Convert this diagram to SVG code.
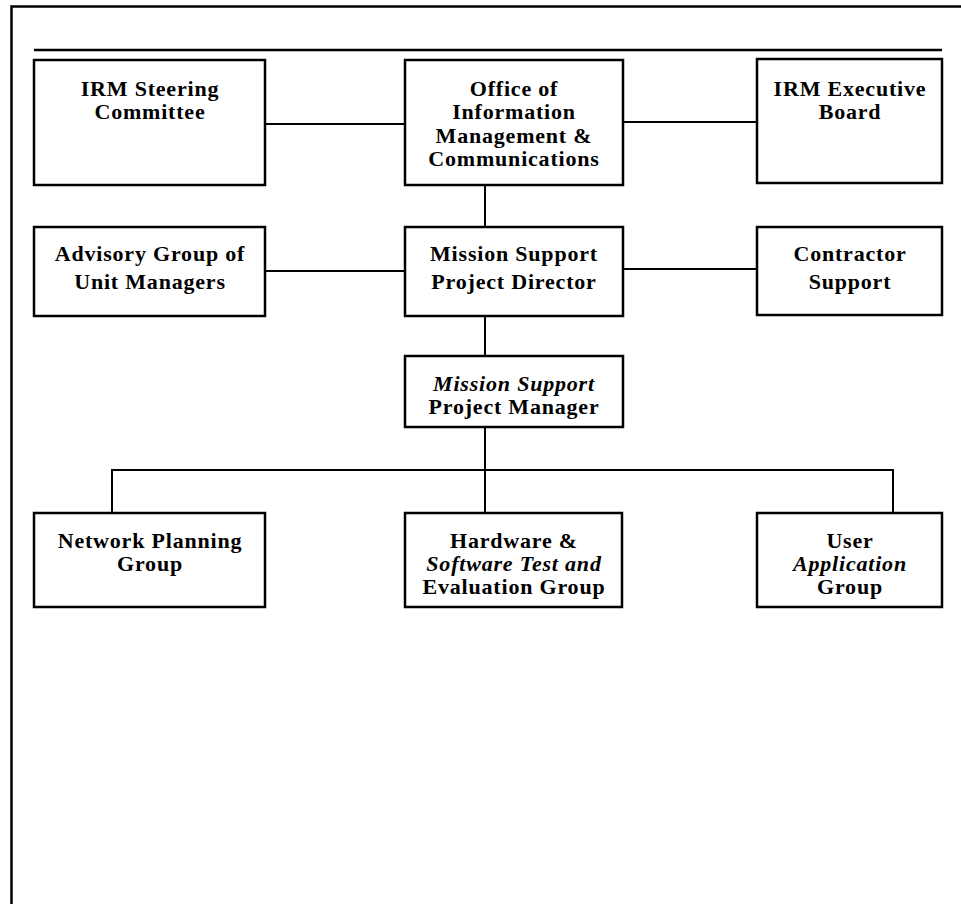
<svg xmlns="http://www.w3.org/2000/svg" width="961" height="904" viewBox="0 0 961 904">
<style>
.box{fill:#fff;stroke:#000;stroke-width:2.5}
.ln{fill:none;stroke:#000;stroke-width:2}
.frame{fill:none;stroke:#000;stroke-width:2.5}
text{font-family:"Liberation Serif","Times New Roman",serif;font-weight:bold;font-size:22px;letter-spacing:0.8px;text-anchor:middle;fill:#000}
.it{font-style:italic}
</style>
<rect width="961" height="904" fill="#fff"/>
<g id="frame">
<path class="frame" d="M11.5,904 V6.5 H961"/>
<path class="frame" d="M34,50 H942"/>
</g>
<g id="connectors">
<path class="ln" d="M265,124 H405"/>
<path class="ln" d="M623,122 H757"/>
<path class="ln" d="M485,185 V227"/>
<path class="ln" d="M265,271 H405"/>
<path class="ln" d="M623,269 H757"/>
<path class="ln" d="M485,316 V356"/>
<path class="ln" d="M485,427 V513"/>
<path class="ln" d="M112,513 V470 H893 V513"/>
</g>
<g id="irm-steering">
<rect class="box" x="34" y="60" width="231" height="125"/>
<text x="150" y="96">IRM Steering</text>
<text x="150" y="119">Committee</text>
</g>
<g id="office">
<rect class="box" x="405" y="60" width="218" height="125"/>
<text x="514" y="96">Office of</text>
<text x="514" y="119">Information</text>
<text x="514" y="143">Management &amp;</text>
<text x="514" y="166">Communications</text>
</g>
<g id="irm-executive">
<rect class="box" x="757" y="59" width="185" height="124"/>
<text x="850" y="96">IRM Executive</text>
<text x="850" y="119">Board</text>
</g>
<g id="advisory">
<rect class="box" x="34" y="227" width="231" height="89"/>
<text x="150" y="261">Advisory Group of</text>
<text x="150" y="289">Unit Managers</text>
</g>
<g id="director">
<rect class="box" x="405" y="227" width="218" height="89"/>
<text x="514" y="261">Mission Support</text>
<text x="514" y="289">Project Director</text>
</g>
<g id="contractor">
<rect class="box" x="757" y="227" width="185" height="88"/>
<text x="850" y="261">Contractor</text>
<text x="850" y="289">Support</text>
</g>
<g id="manager">
<rect class="box" x="405" y="356" width="218" height="71"/>
<text class="it" x="514" y="391">Mission Support</text>
<text x="514" y="414">Project Manager</text>
</g>
<g id="network">
<rect class="box" x="34" y="513" width="231" height="94"/>
<text x="150" y="548">Network Planning</text>
<text x="150" y="571">Group</text>
</g>
<g id="hardware">
<rect class="box" x="405" y="513" width="217" height="94"/>
<text x="514" y="548">Hardware &amp;</text>
<text class="it" x="514" y="571">Software Test and</text>
<text x="514" y="594">Evaluation Group</text>
</g>
<g id="user-app">
<rect class="box" x="757" y="513" width="185" height="94"/>
<text x="850" y="548">User</text>
<text class="it" x="850" y="571">Application</text>
<text x="850" y="594">Group</text>
</g>
</svg>
